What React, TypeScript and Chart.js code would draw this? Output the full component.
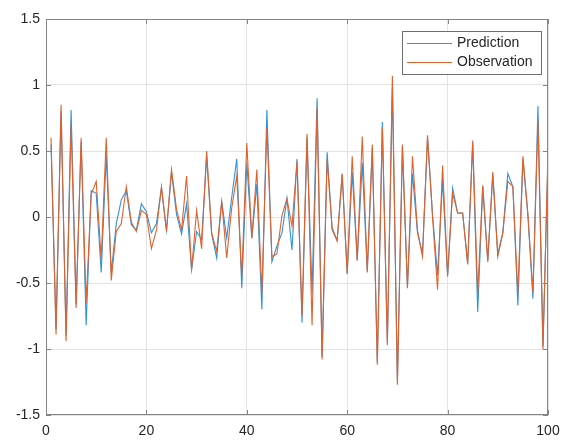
import React, { useEffect, useRef } from "react";
import { Chart, registerables } from "chart.js";

Chart.register(...registerables);

// Sample index 1..100
const steps: number[] = Array.from({ length: 100 }, (_, i) => i + 1);

const prediction: number[] = [
  0.55, -0.85, 0.8, -0.9, 0.81, -0.66, 0.57, -0.82, 0.2, 0.18,
  -0.42, 0.47, -0.42, -0.05, 0.13, 0.2, -0.06, -0.1, 0.1, 0.04,
  -0.12, -0.05, 0.22, -0.1, 0.34, 0.02, -0.13, 0.1, -0.4, -0.11,
  -0.17, 0.46, -0.13, -0.31, 0.12, -0.16, 0.15, 0.44, -0.54, 0.41,
  -0.16, 0.25, -0.7, 0.81, -0.34, -0.22, -0.12, 0.14, -0.25, 0.44,
  -0.8, 0.6, -0.57, 0.9, -1.06, 0.49, -0.1, -0.18, 0.32, -0.43,
  0.34, -0.33, 0.41, -0.41, 0.52, -1.1, 0.72, -0.95, 0.98, -1.24,
  0.53, -0.53, 0.33, -0.12, -0.28, 0.6, 0.02, -0.44, 0.28, -0.45,
  0.22, 0.03, 0.03, -0.35, 0.56, -0.72, 0.23, -0.33, 0.32, -0.28,
  -0.12, 0.33, 0.23, -0.67, 0.44, 0.01, -0.62, 0.84, -0.98, 0.45,
];

const observation: number[] = [
  0.6, -0.89, 0.85, -0.94, 0.7, -0.69, 0.6, -0.65, 0.17, 0.27,
  -0.32, 0.6, -0.48, -0.11, -0.05, 0.23, -0.04, -0.11, 0.05, 0.02,
  -0.24, -0.1, 0.23, -0.11, 0.36, 0.06, -0.1, 0.31, -0.4, 0.05,
  -0.24, 0.5, -0.12, -0.26, 0.12, -0.31, 0.07, 0.31, -0.45, 0.56,
  -0.16, 0.36, -0.58, 0.68, -0.3, -0.28, 0.01, 0.14, -0.07, 0.42,
  -0.75, 0.63, -0.82, 0.83, -1.08, 0.44, -0.08, -0.18, 0.33, -0.43,
  0.46, -0.33, 0.61, -0.42, 0.55, -1.12, 0.68, -0.97, 1.07, -1.27,
  0.55, -0.54, 0.46, -0.1, -0.3, 0.62, 0.0, -0.55, 0.39, -0.44,
  0.18, 0.03, 0.03, -0.36, 0.58, -0.58, 0.24, -0.34, 0.34, -0.3,
  -0.12, 0.27, 0.23, -0.58, 0.46, 0.02, -0.57, 0.73, -1.0, 0.5,
];

const xTicks: number[] = [0, 20, 40, 60, 80, 100];
const yTicks: number[] = [-1.5, -1, -0.5, 0, 0.5, 1, 1.5];

const seriesNames = ["Prediction", "Observation"];
const seriesColors = ["#3093d6", "#e0612c"];

const AXIS_COLOR = "#858585";
const FONT = "'Liberation Sans', Arial, Helvetica, sans-serif";

// Axes box, inward tick marks and the boxed legend
const boxPlugin = {
  id: "boxAndLegend",
  afterDraw(chart: any) {
    const { ctx, chartArea } = chart;
    const { left, right, top, bottom } = chartArea;
    const xs = chart.scales.x;
    const ys = chart.scales.y;
    ctx.save();
    ctx.strokeStyle = AXIS_COLOR;
    ctx.lineWidth = 1;
    ctx.strokeRect(left + 0.5, top + 0.5, right - left - 1, bottom - top - 1);
    const tl = 5;
    ctx.beginPath();
    xTicks.forEach((v) => {
      const px = Math.round(xs.getPixelForValue(v)) + 0.5;
      ctx.moveTo(px, bottom);
      ctx.lineTo(px, bottom - tl);
      ctx.moveTo(px, top);
      ctx.lineTo(px, top + tl);
    });
    yTicks.forEach((v) => {
      const py = Math.round(ys.getPixelForValue(v)) + 0.5;
      ctx.moveTo(left, py);
      ctx.lineTo(left + tl, py);
      ctx.moveTo(right, py);
      ctx.lineTo(right - tl, py);
    });
    ctx.stroke();

    // legend
    const bx = 402, by = 31, bw = 139, bh = 43;
    ctx.fillStyle = "#ffffff";
    ctx.fillRect(bx, by, bw, bh);
    ctx.strokeStyle = "#6e6e6e";
    ctx.strokeRect(bx + 0.5, by + 0.5, bw, bh);
    ctx.font = `14px ${FONT}`;
    ctx.textBaseline = "middle";
    ctx.textAlign = "left";
    seriesNames.forEach((name, i) => {
      const cy = by + 12 + i * 19;
      ctx.strokeStyle = seriesColors[i];
      ctx.lineWidth = 1;
      ctx.beginPath();
      ctx.moveTo(bx + 5, cy + 0.5);
      ctx.lineTo(bx + 50, cy + 0.5);
      ctx.stroke();
      ctx.fillStyle = "#262626";
      ctx.fillText(name, bx + 55, cy);
    });
    ctx.restore();
  },
};

export default function App() {
  const canvasRef = useRef<HTMLCanvasElement | null>(null);

  useEffect(() => {
    document.body.style.margin = "0";
    const canvas = canvasRef.current;
    if (!canvas) return;
    const chart = new Chart(canvas, {
      type: "line",
      data: {
        datasets: [
          {
            label: seriesNames[0],
            data: steps.map((x, i) => ({ x, y: prediction[i] })),
            borderColor: seriesColors[0],
            borderWidth: 1.1,
            pointRadius: 0,
            tension: 0,
            order: 1,
          },
          {
            label: seriesNames[1],
            data: steps.map((x, i) => ({ x, y: observation[i] })),
            borderColor: seriesColors[1],
            borderWidth: 1.1,
            pointRadius: 0,
            tension: 0,
            order: 0,
          },
        ],
      },
      options: {
        animation: false,
        responsive: false,
        devicePixelRatio: 1,
        layout: { padding: { left: 0, top: 19, right: 20, bottom: 0 } },
        plugins: { legend: { display: false }, tooltip: { enabled: false } },
        scales: {
          x: {
            type: "linear",
            min: 0,
            max: 100,
            afterBuildTicks: (scale: any) => {
              scale.ticks = xTicks.map((value) => ({ value }));
            },
            afterFit: (scale: any) => {
              scale.height = 26;
            },
            grid: { color: "#e3e3e3", lineWidth: 1, drawTicks: false },
            border: { display: false },
            ticks: {
              padding: 8,
              color: "#262626",
              font: { family: FONT, size: 14 },
              maxRotation: 0,
              autoSkip: false,
              callback: (v: any) => String(v),
            },
          },
          y: {
            type: "linear",
            min: -1.5,
            max: 1.5,
            afterBuildTicks: (scale: any) => {
              scale.ticks = yTicks.map((value) => ({ value }));
            },
            afterFit: (scale: any) => {
              scale.width = 46;
            },
            grid: { color: "#e3e3e3", lineWidth: 1, drawTicks: false },
            border: { display: false },
            ticks: {
              padding: 6,
              color: "#262626",
              font: { family: FONT, size: 14 },
              autoSkip: false,
              callback: (v: any) => String(v),
            },
          },
        },
      },
      plugins: [boxPlugin],
    });
    return () => chart.destroy();
  }, []);

  return (
    <div style={{ position: "fixed", left: 0, top: 0, width: 568, height: 441, background: "#fff" }}>
      <canvas ref={canvasRef} width={568} height={441} />
    </div>
  );
}
